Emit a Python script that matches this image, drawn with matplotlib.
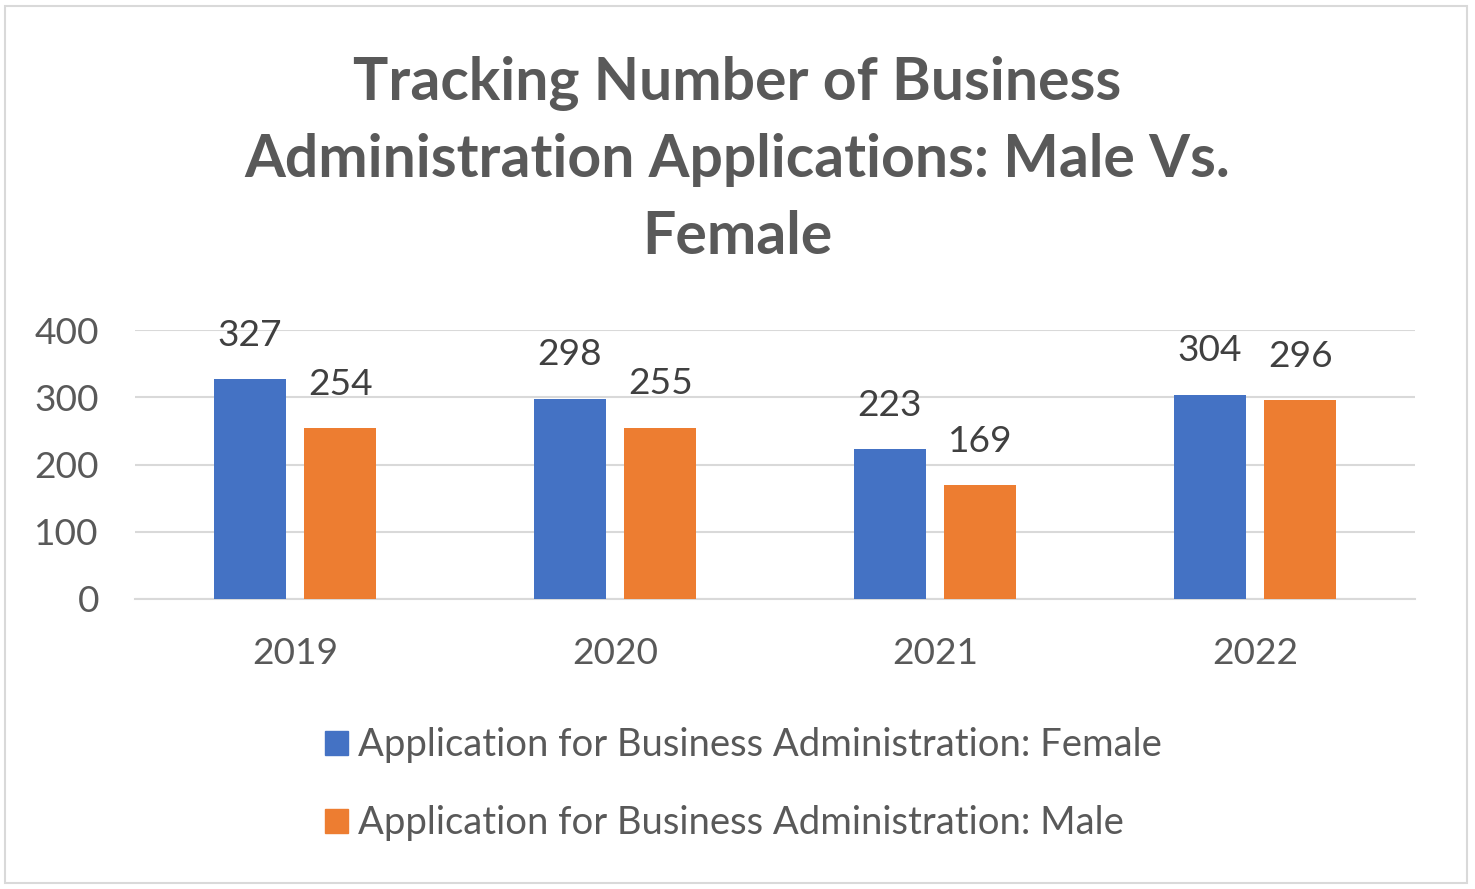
import matplotlib.pyplot as plt
import matplotlib.patches as mpatches
import numpy as np

# данные с картинки
years = ["2019", "2020", "2021", "2022"]
female = [327, 298, 223, 304]
male = [254, 255, 169, 296]
series_names = ["Application for Business Administration: Female",
                "Application for Business Administration: Male"]
colors = ["#4472C4", "#ED7D31"]

plt.rcParams['font.family'] = ['Lato', 'DejaVu Sans']

fig = plt.figure(figsize=(14.75, 8.89), dpi=100)

# рамка вокруг графика
fig.patches.append(mpatches.Rectangle((5 / 1475, 6 / 889), 1462 / 1475, 877 / 889,
                                      transform=fig.transFigure, fill=False,
                                      edgecolor="#D9D9D9", linewidth=1.5))

ax = fig.add_axes([135 / 1475, 290 / 889, 1280 / 1475, 269 / 889])

x = np.arange(len(years))
w = 0.225
off = 0.142
b1 = ax.bar(x - off, female, w, color=colors[0], zorder=3)
b2 = ax.bar(x + off, male, w, color=colors[1], zorder=3)

for bars, vals in ((b1, female), (b2, male)):
    for rect, v in zip(bars, vals):
        ax.annotate(str(v), (rect.get_x() + rect.get_width() / 2, v),
                    xytext=(0, 31.5), textcoords="offset points",
                    ha="center", va="center", fontsize=26.7, color="#404040")

ax.set_xlim(-0.5, 3.5)
ax.set_ylim(0, 400)
ax.set_yticks([0, 100, 200, 300, 400])
ax.set_xticks(x)
ax.set_xticklabels(years)
ax.grid(axis="y", color="#D9D9D9", linewidth=1.5, zorder=0)
for s in ["top", "right", "left"]:
    ax.spines[s].set_visible(False)
ax.spines["bottom"].set_color("#D9D9D9")
ax.spines["bottom"].set_linewidth(1.5)
ax.tick_params(axis="both", length=0, labelsize=26.7, labelcolor="#595959")
ax.tick_params(axis="y", pad=26)
ax.tick_params(axis="x", pad=27)
for lbl in ax.get_yticklabels():
    lbl.set_horizontalalignment("right")

fig.text(0.5, 1 - 160 / 889,
         "Tracking Number of Business\nAdministration Applications: Male Vs.\nFemale",
         ha="center", va="center", fontsize=42.4, fontweight="bold",
         color="#595959", linespacing=1.52)

handles = [mpatches.Patch(color=c) for c in colors]
fig.legend(handles, series_names, loc="upper left",
           bbox_to_anchor=(291 / 1475, 1 - 693 / 889), frameon=False,
           fontsize=27.5, labelcolor="#595959", handlelength=0.58,
           handleheight=0.58, handletextpad=0.28, labelspacing=1.1)

fig.savefig("out.png", dpi=100)
